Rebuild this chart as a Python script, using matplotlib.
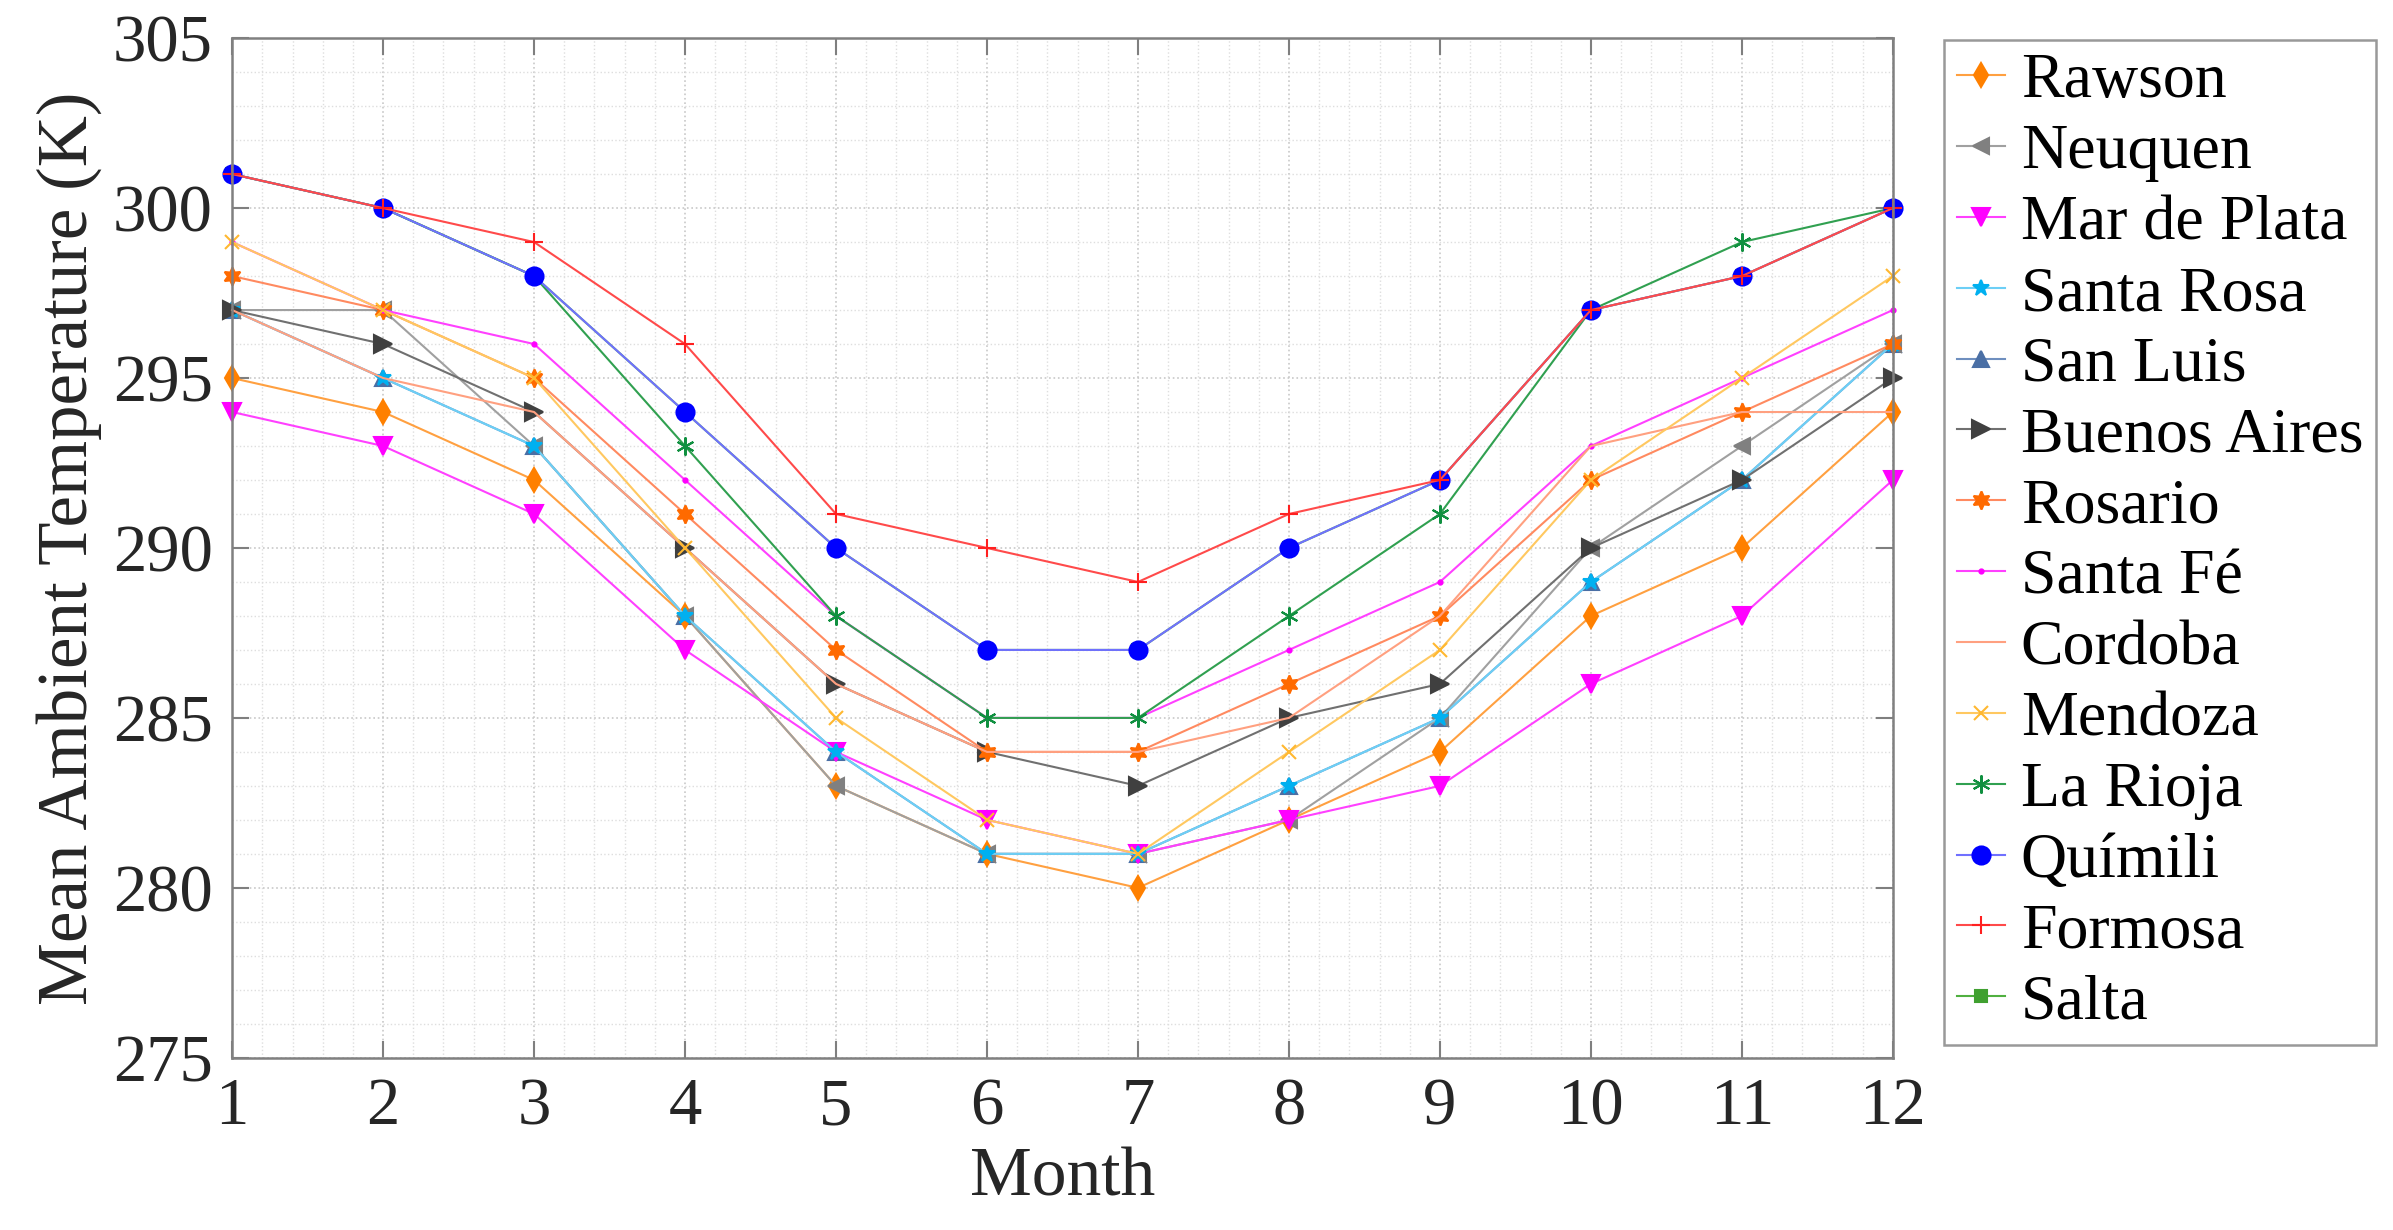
import matplotlib
matplotlib.use('Agg')
import matplotlib.pyplot as plt
from matplotlib.ticker import MultipleLocator

plt.rcParams['font.family'] = ['Liberation Serif', 'Times New Roman', 'DejaVu Serif']

months = list(range(1, 13))

rawson = [295, 294, 292, 288, 283, 281, 280, 282, 284, 288, 290, 294]
neuquen = [297, 297, 293, 288, 283, 281, 281, 282, 285, 290, 293, 296]
mar_de_plata = [294, 293, 291, 287, 284, 282, 281, 282, 283, 286, 288, 292]
santa_rosa = [297, 295, 293, 288, 284, 281, 281, 283, 285, 289, 292, 296]
san_luis = [297, 295, 293, 288, 284, 281, 281, 283, 285, 289, 292, 296]
buenos_aires = [297, 296, 294, 290, 286, 284, 283, 285, 286, 290, 292, 295]
rosario = [298, 297, 295, 291, 287, 284, 284, 286, 288, 292, 294, 296]
santa_fe = [299, 297, 296, 292, 288, 285, 285, 287, 289, 293, 295, 297]
cordoba = [297, 295, 294, 290, 286, 284, 284, 285, 288, 293, 294, 294]
mendoza = [299, 297, 295, 290, 285, 282, 281, 284, 287, 292, 295, 298]
la_rioja = [301, 300, 298, 293, 288, 285, 285, 288, 291, 297, 299, 300]
quimili = [301, 300, 298, 294, 290, 287, 287, 290, 292, 297, 298, 300]
formosa = [301, 300, 299, 296, 291, 290, 289, 291, 292, 297, 298, 300]
salta = [301, 300, 298, 294, 290, 287, 287, 290, 292, 297, 298, 300]

# name, values, line colour, marker colour, marker, marker size, zorder
series = [
    ('Rawson', rawson, '#ffa040', '#ff8000', 'd', 12, 2),
    ('Neuquen', neuquen, '#a0a0a0', '#808080', '<', 12, 2),
    ('Mar de Plata', mar_de_plata, '#ff40ff', '#ff00ff', 'v', 13, 2),
    ('Santa Rosa', santa_rosa, '#6ccff6', '#00b0f0', '*', 12, 2),
    ('San Luis', san_luis, '#6f8fbf', '#4a6fa5', '^', 11, 1.5),
    ('Buenos Aires', buenos_aires, '#707070', '#404040', '>', 13, 2),
    ('Rosario', rosario, '#ff8a60', '#ff6a00', (6, 1, 0), 13, 2),
    ('Santa Fé', santa_fe, '#ff40ff', '#ff00ff', '.', 6, 2),
    ('Cordoba', cordoba, '#ffa080', '#ffa080', 'None', 0, 2),
    ('Mendoza', mendoza, '#ffc860', '#ffb830', 'x', 10, 2),
    ('La Rioja', la_rioja, '#30a050', '#109040', (6, 2, 0), 13, 2),
    ('Químili', quimili, '#7070ff', '#0000ff', 'o', 13, 2),
    ('Formosa', formosa, '#ff4a4a', '#ff2020', '+', 13, 2),
    ('Salta', salta, '#50b040', '#40a030', 's', 9, 1.5),
]

fig = plt.figure(figsize=(23.93, 12.30), dpi=100)
ax = fig.add_axes([0.097, 0.140, 0.694, 0.829])

for name, vals, lc, mc, mk, ms, z in series:
    ax.plot(months, vals, color=lc, lw=1.5, marker=mk, markersize=ms,
            markerfacecolor=mc, markeredgecolor=mc, markeredgewidth=1.5,
            label=name, zorder=z, clip_on=False)

ax.set_xlim(1, 12)
ax.set_ylim(275, 305)
ax.set_xticks(months)
ax.set_yticks(range(275, 306, 5))
ax.xaxis.set_minor_locator(MultipleLocator(0.2))
ax.yaxis.set_minor_locator(MultipleLocator(1))

ax.grid(which='major', color='#c8c8c8', linestyle=':', linewidth=1.2)
ax.grid(which='minor', color='#dedede', linestyle=':', linewidth=1.0)
ax.set_axisbelow(True)

ax.tick_params(which='major', direction='in', length=12, width=1.5,
               top=True, right=True, labelsize=48, colors='#7f7f7f',
               labelcolor='#262626', pad=14)
ax.tick_params(which='minor', length=0)
for sp in ax.spines.values():
    sp.set_color('#808080')
    sp.set_linewidth(1.8)

ax.set_xlabel('Month', fontsize=50, color='#262626', labelpad=6)
ax.set_ylabel('Mean Ambient Temperature (K)', fontsize=51, color='#262626',
              labelpad=8)

leg = fig.legend(loc='upper left', bbox_to_anchor=(0.8124, 0.9675),
                 borderaxespad=0, fontsize=46, frameon=True, fancybox=False,
                 edgecolor='#808080', handlelength=0.75, handletextpad=0.25,
                 labelspacing=0.19, borderpad=0.2)
leg.get_frame().set_linewidth(1.8)

fig.savefig('out.png', dpi=100)
